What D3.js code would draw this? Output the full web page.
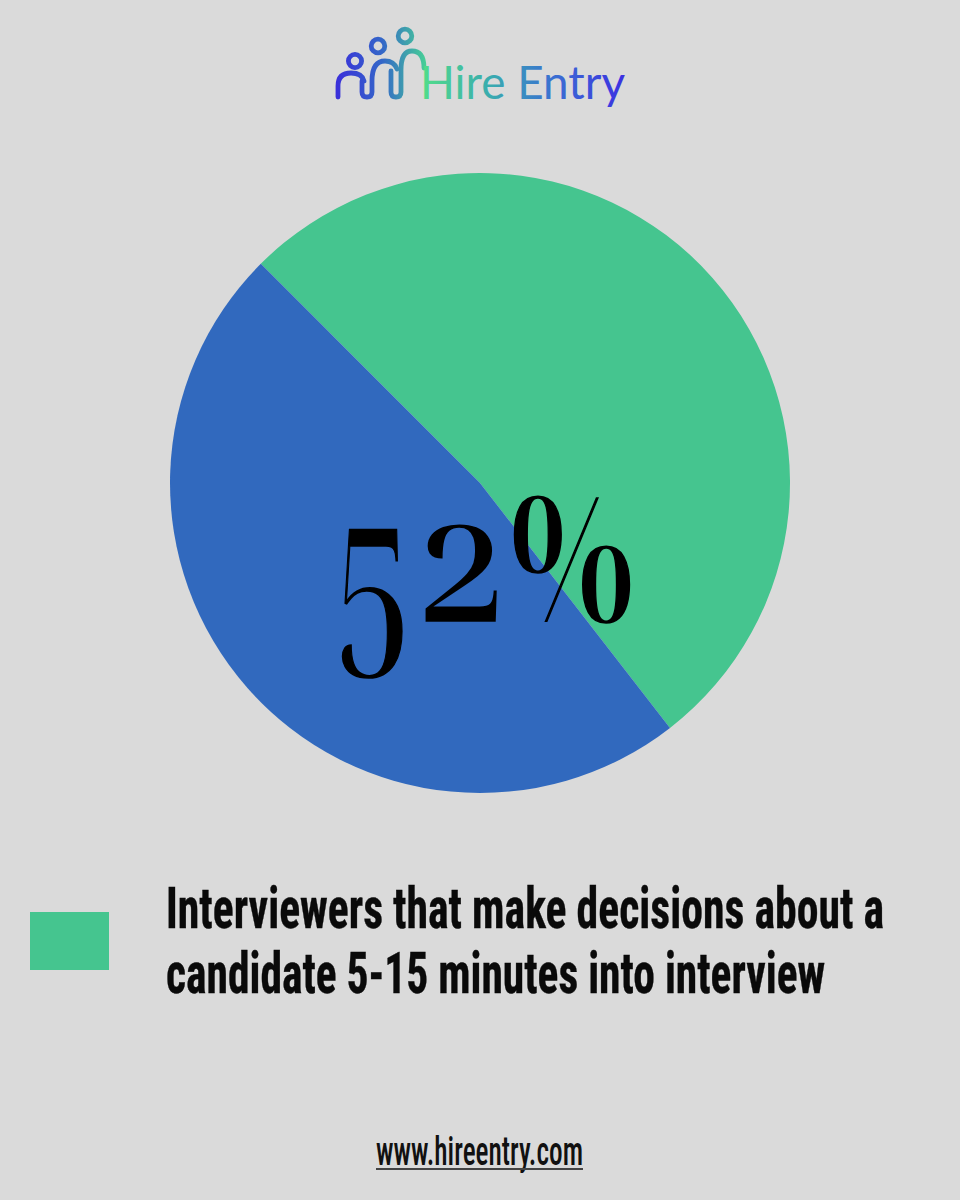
<!DOCTYPE html>
<html lang="en">
<head>
<meta charset="utf-8" />
<script src="https://d3js.org/d3.v7.min.js"></script>
<style>
  html, body { margin: 0; padding: 0; background: #dadada; }
  svg { display: block; }
</style>
</head>
<body>
<div id="chart"></div>
<script>
// ---- data ----
var sliceNames = ["Decide 5-15 minutes into interview", "Other"];
var sliceValues = [52, 48];
var sliceColors = ["#45c58f", "#3169be"];
var legendLines = ["Interviewers that make decisions about a", "candidate 5-15 minutes into interview"];
var brandName = "Hire Entry";
var siteUrl = "www.hireentry.com";

var W = 960, H = 1200;
var svg = d3.select("#chart").append("svg")
    .attr("width", W)
    .attr("height", H);

svg.append("rect").attr("width", W).attr("height", H).attr("fill", "#dadada");

var defs = svg.append("defs");
var gIcon = defs.append("linearGradient").attr("id", "gIcon")
    .attr("gradientUnits", "userSpaceOnUse").attr("x1", 336).attr("x2", 428).attr("y1", 0).attr("y2", 0);
gIcon.append("stop").attr("offset", 0).attr("stop-color", "#3a2fda");
gIcon.append("stop").attr("offset", 0.5).attr("stop-color", "#3467c8");
gIcon.append("stop").attr("offset", 1).attr("stop-color", "#48d494");

var gText = defs.append("linearGradient").attr("id", "gText")
    .attr("gradientUnits", "userSpaceOnUse").attr("x1", 420).attr("x2", 626).attr("y1", 0).attr("y2", 0);
gText.append("stop").attr("offset", 0).attr("stop-color", "#52de88");
gText.append("stop").attr("offset", 0.35).attr("stop-color", "#39aab0");
gText.append("stop").attr("offset", 0.65).attr("stop-color", "#3a6fd2");
gText.append("stop").attr("offset", 1).attr("stop-color", "#3b2fe2");

// ---- logo ----
var logo = svg.append("g").attr("fill", "none").attr("stroke", "url(#gIcon)")
    .attr("stroke-width", 4.8).attr("stroke-linecap", "round").attr("stroke-linejoin", "round");

// heads
[[355, 61, 6.6], [378, 46, 6.8], [405, 36, 6.8]].forEach(function(h) {
    logo.append("circle").attr("cx", h[0]).attr("cy", h[1]).attr("r", h[2]);
});
// bodies
logo.append("path").attr("d", "M338,97 V86 Q338,73 351,73 Q362,73 364,81");
logo.append("path").attr("d", "M362,81 V92 Q362,97 367,97 Q372,97 372,92 V81 Q372,61 385,61 Q394,61 397,69");
logo.append("path").attr("d", "M391,71 V92 Q391,97 396,97 Q401,97 401,92 V70 Q401,51 412,51 Q424,51 424,68");

svg.append("text")
    .attr("x", 420)
    .attr("y", 99)
    .style("font-family", "Lato, 'Open Sans', sans-serif")
    .attr("font-size", 46)
    .attr("textLength", 205)
    .attr("lengthAdjust", "spacingAndGlyphs")
    .attr("fill", "url(#gText)")
    .text(brandName);

// ---- pie ----
var cx = 480, cy = 483, R = 310;

var pie = d3.pie()
    .sort(null)
    .startAngle(-Math.PI / 4)
    .endAngle(2 * Math.PI - Math.PI / 4);

var arc = d3.arc().innerRadius(0).outerRadius(R);

var pieG = svg.append("g").attr("transform", "translate(" + cx + "," + cy + ")");
pieG.selectAll("path")
    .data(pie(sliceValues))
    .enter()
    .append("path")
    .attr("d", arc)
    .attr("fill", function(d, i) { return sliceColors[i]; })
    .append("title").text(function(d, i) { return sliceNames[i] + ": " + d.value + "%"; });

// big percentage in old-style figures
var bigChars = (sliceValues[0] + "%").split("");
var bigSize = [205, 172, 172];
var bigX = [333, 418, 508];
var bigLen = [76, 86, 128];
var bigDy = [20, -20, 0];
var big = svg.append("text")
    .attr("y", 621)
    .style("font-family", "'Noto Serif Display', 'Liberation Serif', serif")
    .style("font-variant-numeric", "oldstyle-nums")
    .attr("fill", "#000")
    .attr("stroke", "#000")
    .attr("stroke-width", 1.6);
big.selectAll("tspan")
    .data(bigChars)
    .enter()
    .append("tspan")
    .attr("x", function(d, i) { return bigX[i]; })
    .attr("dy", function(d, i) { return bigDy[i]; })
    .attr("font-size", function(d, i) { return bigSize[i]; })
    .attr("textLength", function(d, i) { return bigLen[i]; })
    .attr("lengthAdjust", "spacingAndGlyphs")
    .text(function(d) { return d; });

// ---- legend ----
svg.append("rect")
    .attr("x", 30).attr("y", 912)
    .attr("width", 79).attr("height", 58)
    .attr("fill", sliceColors[0]);

var legendWidths = [718, 659];
svg.append("g").selectAll("text")
    .data(legendLines)
    .enter()
    .append("text")
    .attr("x", 166)
    .attr("y", function(d, i) { return 928 + i * 65; })
    .style("font-family", "'Roboto Condensed', 'Liberation Sans Narrow', sans-serif")
    .style("font-weight", 700)
    .attr("font-size", 58)
    .attr("textLength", function(d, i) { return legendWidths[i]; })
    .attr("lengthAdjust", "spacingAndGlyphs")
    .attr("fill", "#0a0a0a")
    .attr("stroke", "#0a0a0a")
    .attr("stroke-width", 0.4)
    .text(function(d) { return d; });

// ---- footer ----
svg.append("text")
    .attr("x", 376)
    .attr("y", 1165)
    .style("font-family", "'Roboto Condensed', 'Liberation Sans Narrow', sans-serif")
    .style("font-weight", 500)
    .attr("font-size", 40)
    .attr("textLength", 207)
    .attr("lengthAdjust", "spacingAndGlyphs")
    .attr("fill", "#111")
    .text(siteUrl);
svg.append("line")
    .attr("x1", 376).attr("x2", 583)
    .attr("y1", 1169).attr("y2", 1169)
    .attr("stroke", "#444").attr("stroke-width", 2);
</script>
</body>
</html>
